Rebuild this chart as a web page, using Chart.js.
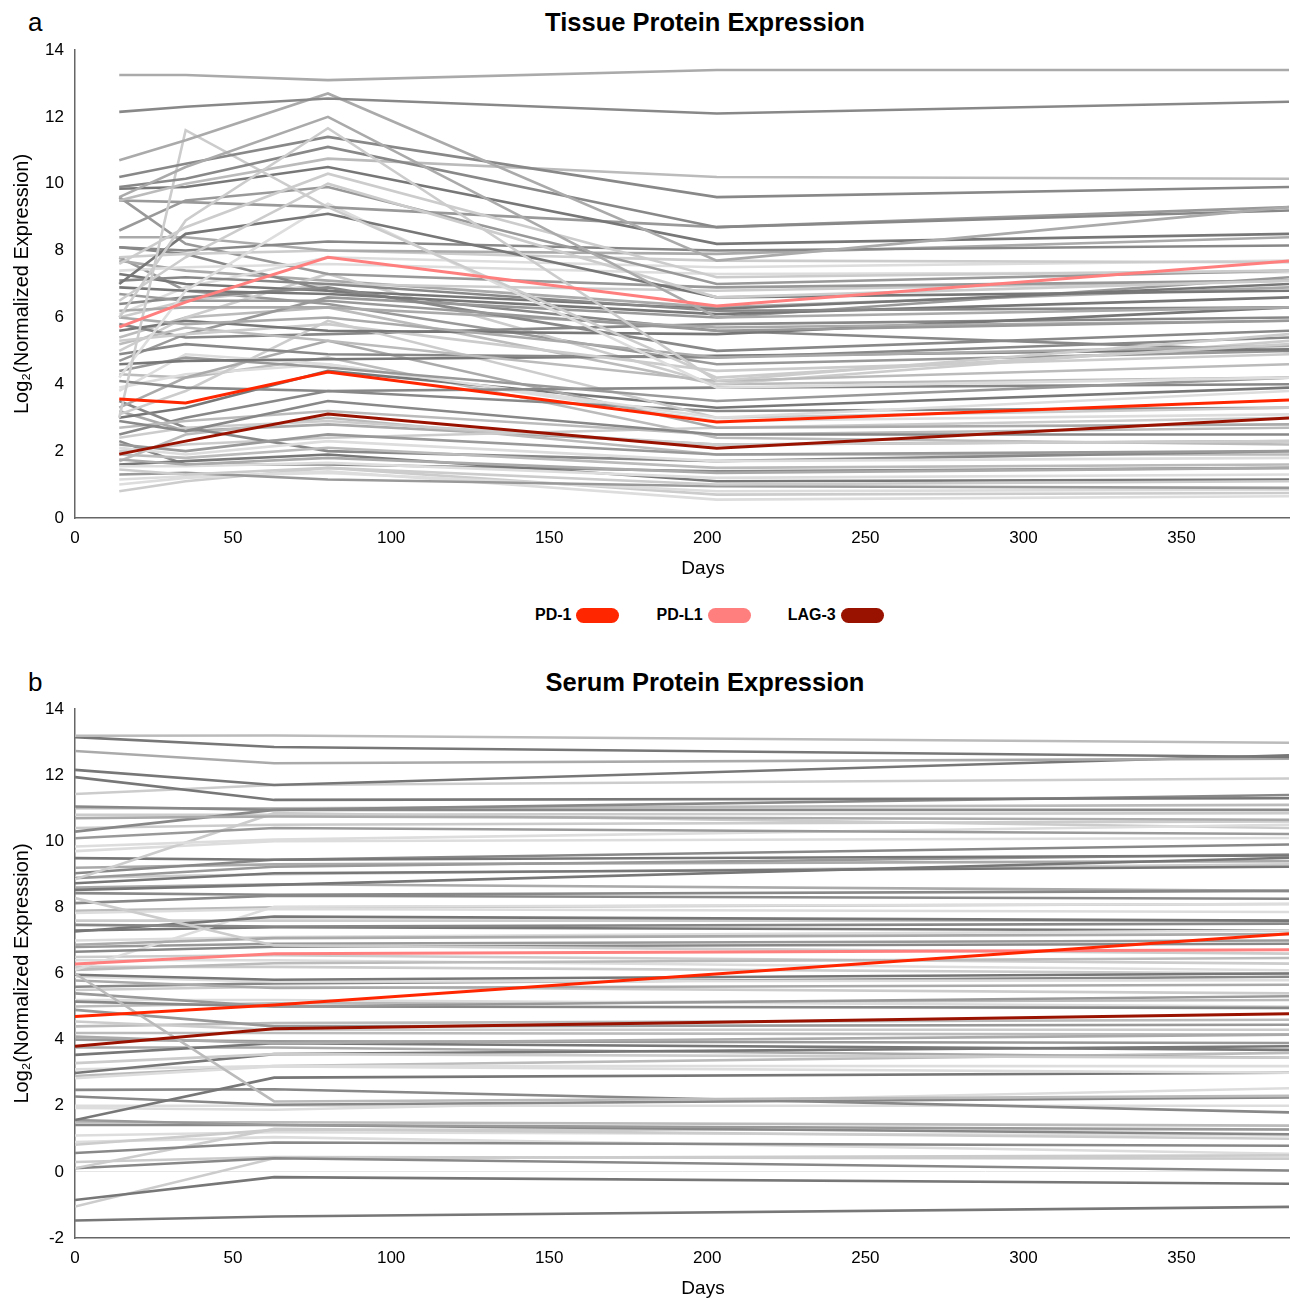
<!DOCTYPE html>
<html>
<head>
<meta charset="utf-8">
<script src="https://cdn.jsdelivr.net/npm/chart.js@4.4.1/dist/chart.umd.min.js"></script>
<style>
  body { margin: 0; background: #fff; font-family: "Liberation Sans", Arial, sans-serif; }
  #wrap { position: relative; width: 1290px; height: 1300px; }
  canvas { position: absolute; left: 0; }
  .letter { position: absolute; font-size: 26px; line-height: 26px; color: #000; }
  .title { position: absolute; width: 600px; margin-left: -300px; text-align: center;
           font-size: 25.5px; font-weight: bold; line-height: 28px; color: #000; }
  .xtitle { position: absolute; width: 200px; margin-left: -100px; text-align: center;
            font-size: 19px; line-height: 22px; color: #000; }
  #legend { position: absolute; left: 535px; top: 606px; display: flex; gap: 37px;
            font-size: 16px; font-weight: bold; }
  .item { display: flex; align-items: center; gap: 5px; }
  .pill { width: 43px; height: 15px; border-radius: 8px; }
</style>
</head>
<body>
<div id="wrap">
  <div class="letter" style="left:28px; top:9px;">a</div>
  <div class="title" style="left:705px; top:8px;">Tissue Protein Expression</div>
  <canvas id="tissueChart" width="1290" height="580" style="top:0"></canvas>
  <div class="xtitle" style="left:703px; top:557px;">Days</div>
  <div id="legend"></div>
  <div class="letter" style="left:28px; top:669px;">b</div>
  <div class="title" style="left:705px; top:668px;">Serum Protein Expression</div>
  <canvas id="serumChart" width="1290" height="660" style="top:640px"></canvas>
  <div class="xtitle" style="left:703px; top:1277px;">Days</div>
</div>
<script>
// time points (days)
const tissueDays = [14, 35, 80, 203, 384];
const serumDays = [0, 63, 384];

// highlighted markers
const markerNames = ['PD-1', 'PD-L1', 'LAG-3'];
const tissuePD1 = [3.56, 3.44, 4.37, 2.87, 3.53];
const tissuePDL1 = [5.71, 6.46, 7.8, 6.34, 7.69];
const tissueLAG3 = [1.91, 2.3, 3.11, 2.09, 2.99];
const serumPD1 = [4.7, 5.05, 7.2];
const serumPDL1 = [6.29, 6.6, 6.72];
const serumLAG3 = [3.8, 4.33, 4.78];

// all the other proteins, one row per protein
const tissueOthers = [
    [13.25, 13.25, 13.1, 13.4, 13.4], [12.15, 12.3, 12.55, 12.1, 12.45], [10.7, 11.3, 12.7, 7.7, 9.3],
    [9.6, 10.5, 12.0, 6.0, 6.3], [6.0, 8.9, 11.66, 4.1, 5.5], [10.2, 10.6, 11.4, 9.6, 9.9],
    [9.9, 10.15, 11.1, 8.7, 9.2], [9.5, 10.0, 10.75, 10.2, 10.15], [3.0, 11.6, 9.3, 4.2, 5.2],
    [9.85, 9.9, 10.5, 8.2, 8.5], [7.6, 8.7, 10.3, 7.2, 7.4], [6.5, 7.8, 10.0, 6.6, 7.1],
    [8.6, 9.5, 9.9, 7.0, 7.4], [9.5, 9.45, 9.3, 8.7, 9.3], [7.0, 8.5, 9.1, 6.6, 6.8],
    [4.2, 6.8, 9.4, 3.9, 4.2], [8.1, 8.0, 8.27, 8.0, 8.15], [8.4, 8.4, 8.0, 7.9, 8.4],
    [7.8, 7.9, 8.0, 7.7, 7.65], [7.4, 7.5, 7.6, 7.3, 7.35], [9.6, 8.2, 7.3, 6.9, 7.1],
    [7.1, 7.2, 7.0, 6.2, 6.3], [6.9, 6.8, 6.7, 6.1, 6.6], [6.7, 6.5, 6.5, 5.6, 5.9],
    [6.4, 6.6, 6.9, 5.0, 5.6], [6.2, 6.3, 6.3, 5.7, 5.9], [6.0, 5.8, 6.0, 4.8, 5.15],
    [5.6, 5.9, 5.6, 5.5, 6.3], [5.3, 5.5, 5.8, 4.4, 4.9], [5.2, 5.7, 5.3, 4.1, 4.6],
    [4.9, 5.2, 4.9, 4.8, 5.4], [4.6, 4.7, 4.75, 4.85, 5.05], [4.4, 4.8, 4.5, 3.5, 4.2],
    [4.1, 3.9, 3.8, 3.9, 4.0], [3.8, 4.9, 4.6, 3.0, 3.8], [3.3, 4.2, 5.3, 2.7, 2.8],
    [3.1, 3.8, 5.9, 3.0, 3.3], [2.9, 2.6, 3.5, 2.5, 2.5], [2.7, 2.9, 3.2, 2.5, 2.7],
    [2.4, 2.7, 2.9, 2.2, 2.3], [2.2, 2.0, 2.5, 1.9, 2.0], [2.1, 1.9, 2.3, 1.7, 1.8],
    [1.9, 1.8, 2.1, 1.5, 1.6], [1.75, 1.6, 1.8, 1.35, 1.5], [1.55, 1.55, 1.65, 1.2, 1.3],
    [1.45, 1.3, 1.5, 1.0, 1.1], [1.3, 1.35, 1.15, 0.95, 0.9], [1.15, 1.25, 1.35, 0.8, 0.85],
    [1.0, 1.2, 1.4, 0.55, 0.65], [0.8, 1.1, 1.5, 0.7, 0.75], [1.6, 1.7, 1.9, 1.1, 1.15],
    [2.3, 1.6, 1.6, 1.4, 1.5], [3.5, 2.7, 2.0, 1.7, 2.0], [2.0, 2.2, 2.4, 2.7, 3.0],
    [5.8, 5.4, 5.5, 5.8, 6.0], [7.3, 7.0, 6.8, 6.25, 7.0], [4.7, 5.5, 6.6, 6.0, 7.2],
    [6.1, 6.9, 7.8, 7.5, 7.7], [5.0, 6.0, 7.3, 4.0, 5.3], [3.0, 3.3, 4.4, 3.3, 3.9],
    [2.5, 3.0, 3.8, 3.2, 3.3], [8.1, 7.9, 6.8, 5.6, 5.0], [6.0, 6.5, 7.0, 6.8, 7.1],
    [5.4, 6.0, 6.3, 4.0, 4.2], [3.9, 4.3, 4.6, 2.9, 3.1], [4.3, 4.2, 4.8, 2.4, 2.2],
    [1.7, 2.5, 3.0, 1.9, 1.9], [7.7, 7.4, 7.1, 6.3, 6.9], [7.8, 6.8, 6.4, 4.6, 5.0],
    [3.2, 2.6, 2.8, 2.2, 2.3]
];
const serumOthers = [
    [13.19, 13.2, 12.98], [13.15, 12.85, 12.55], [12.73, 12.36, 12.5], [12.16, 11.7, 12.6],
    [11.94, 11.25, 11.3], [11.43, 11.7, 11.9], [11.05, 10.95, 10.95], [10.7, 10.75, 10.65],
    [10.29, 10.95, 11.4], [10.09, 10.4, 10.22], [9.84, 10.05, 10.5], [8.85, 10.85, 10.4],
    [9.49, 9.44, 9.57], [9.03, 9.44, 9.9], [8.88, 9.23, 9.6], [8.73, 9.03, 9.23],
    [8.53, 8.68, 9.5], [8.43, 8.38, 8.5], [8.28, 6.85, 6.6], [8.13, 8.35, 8.26],
    [7.83, 7.95, 7.86], [7.47, 7.42, 7.51], [7.27, 7.72, 7.6], [6.87, 7.07, 7.19],
    [6.66, 6.81, 6.9], [6.11, 8.02, 8.1], [6.11, 6.31, 6.47], [6.0, 2.13, 2.3],
    [5.96, 5.81, 6.0], [5.79, 5.56, 5.66], [5.4, 5.0, 5.31], [5.15, 5.0, 4.96],
    [4.9, 4.4, 4.45], [4.55, 4.3, 4.3], [4.09, 3.89, 4.15], [3.54, 3.89, 3.69],
    [3.29, 3.56, 3.45], [2.99, 3.56, 3.8], [2.83, 3.19, 3.0], [1.57, 2.85, 3.0],
    [2.48, 2.5, 1.8], [2.28, 2.03, 2.25], [1.93, 1.88, 2.53], [1.57, 1.42, 1.28],
    [1.42, 1.42, 1.14], [0.82, 1.27, 1.28], [0.57, 0.89, 0.79], [0.11, 1.3, 1.0],
    [0.11, 0.41, 0.04], [-0.85, -0.16, -0.36], [-1.05, 0.41, 0.5], [-1.47, -1.35, -1.06],
    [3.76, 3.76, 3.45], [4.2, 4.2, 4.15], [5.5, 5.6, 5.4], [5.2, 5.2, 5.0],
    [5.0, 5.1, 5.2], [6.4, 6.4, 6.1], [6.5, 6.55, 6.3], [6.2, 6.2, 6.0],
    [5.9, 5.75, 5.8], [7.0, 7.1, 7.3], [7.6, 7.6, 7.6], [7.9, 8.0, 8.1],
    [8.9, 9.0, 9.3], [9.7, 10.0, 10.1], [10.4, 10.5, 10.6], [11.0, 11.0, 11.1],
    [3.1, 3.2, 3.2], [2.9, 3.2, 3.6], [1.1, 1.2, 1.1], [1.5, 1.5, 1.4],
    [0.9, 1.05, 0.55], [2.0, 2.0, 2.0], [4.4, 4.5, 4.6], [4.0, 3.95, 3.9],
    [6.8, 6.9, 7.0], [7.3, 7.4, 7.3], [8.6, 8.7, 8.5], [5.6, 5.7, 5.9],
    [0.3, 0.45, 0.4], [9.2, 9.3, 9.4], [10.8, 10.8, 10.85]
];

// grey shade for each background line (same order as the rows above)
const tissueGreys = ['#aaa', '#888', '#aaa', '#aaa', '#ccc', '#888', '#888', '#bbb', '#ccc', '#777', '#ccc', '#ccc',
    '#999', '#999', '#777', '#ddd', '#888', '#aaa', '#ccc', '#ddd', '#999', '#888', '#777', '#999', '#888', '#aaa',
    '#aaa', '#777', '#ccc', '#bbb', '#888', '#777', '#999', '#888', '#ddd', '#aaa', '#ccc', '#888', '#bbb', '#ccc',
    '#999', '#ddd', '#bbb', '#aaa', '#ddd', '#ccc', '#999', '#ddd', '#ddd', '#ccc', '#777', '#888', '#888', '#ccc',
    '#888', '#777', '#999', '#ddd', '#ccc', '#777', '#888', '#888', '#ccc', '#bbb', '#ddd', '#bbb', '#bbb', '#aaa',
    '#999', '#aaa'];
const serumGreys = ['#bbb', '#777', '#aaa', '#777', '#777', '#ccc', '#888', '#aaa', '#888', '#999', '#ddd', '#ccc',
    '#777', '#888', '#999', '#777', '#777', '#888', '#ccc', '#888', '#ddd', '#888', '#777', '#aaa', '#888', '#ddd',
    '#bbb', '#bbb', '#777', '#aaa', '#999', '#888', '#999', '#ccc', '#aaa', '#777', '#ccc', '#777', '#ddd', '#777',
    '#888', '#888', '#ddd', '#999', '#888', '#ccc', '#888', '#ccc', '#888', '#777', '#ccc', '#777', '#aaa', '#bbb',
    '#ccc', '#ddd', '#bbb', '#ddd', '#ccc', '#ccc', '#ddd', '#ddd', '#ccc', '#bbb', '#ccc', '#ddd', '#ccc', '#bbb',
    '#ddd', '#bbb', '#ddd', '#bbb', '#ddd', '#ddd', '#bbb', '#999', '#999', '#777', '#aaa', '#888', '#ccc', '#aaa',
    '#ccc'];

const markerColors = ['#ff2600', '#ff7f7f', '#991200'];
const axisFont = { family: '"Liberation Sans", Arial, sans-serif', size: 17 };
const titleFont = { family: '"Liberation Sans", Arial, sans-serif', size: 20 };

function toPoints(days, values) {
    return values.map((v, i) => ({ x: days[i], y: v }));
}

function buildDatasets(days, others, greys, highlights) {
    const sets = highlights.map((vals, i) => ({
        label: markerNames[i],
        data: toPoints(days, vals),
        borderColor: markerColors[i],
        borderWidth: 3,
        order: 0
    }));
    others.forEach((vals, i) => {
        sets.push({
            label: 'protein ' + (i + 1),
            data: toPoints(days, vals),
            borderColor: greys[i],
            borderWidth: 2.6,
            order: 1
        });
    });
    return sets;
}

function makeChart(id, datasets, yMin, padTop, zeroLine) {
    return new Chart(document.getElementById(id), {
        type: 'line',
        data: { datasets: datasets },
        options: {
            responsive: false,
            animation: false,
            layout: { padding: { top: padTop, right: 1, left: 0, bottom: 0 } },
            elements: { point: { radius: 0 }, line: { tension: 0 } },
            scales: {
                x: {
                    type: 'linear',
                    min: 0,
                    max: 384,
                    afterFit: function(scale) { scale.height = 62; },
                    ticks: { stepSize: 50, includeBounds: false, color: '#000', font: axisFont, padding: 10 },
                    grid: { display: false, drawTicks: false },
                    border: { color: '#666', width: 1.5 }
                },
                y: {
                    min: yMin,
                    max: 14,
                    afterFit: function(scale) { scale.width = 75; },
                    ticks: { stepSize: 2, color: '#000', font: axisFont, padding: 11 },
                    grid: {
                        display: zeroLine,
                        drawTicks: false,
                        color: ctx => (ctx.tick && ctx.tick.value === 0) ? '#e6e6e6' : 'rgba(0,0,0,0)'
                    },
                    border: { color: '#666', width: 1.5 },
                    title: { display: true, text: 'Log₂(Normalized Expression)', color: '#000', font: titleFont,
                             padding: { top: 10, bottom: 0 } }
                }
            },
            plugins: {
                legend: { display: false },
                tooltip: { enabled: false }
            }
        }
    });
}

const tissueChart = makeChart('tissueChart',
    buildDatasets(tissueDays, tissueOthers, tissueGreys, [tissuePD1, tissuePDL1, tissueLAG3]), 0, 50, false);
const serumChart = makeChart('serumChart',
    buildDatasets(serumDays, serumOthers, serumGreys, [serumPD1, serumPDL1, serumLAG3]), -2, 69, true);

// shared legend between the two panels
const legend = document.getElementById('legend');
markerNames.forEach((name, i) => {
    const item = document.createElement('div');
    item.className = 'item';
    item.innerHTML = '<span>' + name + '</span><span class="pill" style="background:' + markerColors[i] + '"></span>';
    legend.appendChild(item);
});
</script>
</body>
</html>
